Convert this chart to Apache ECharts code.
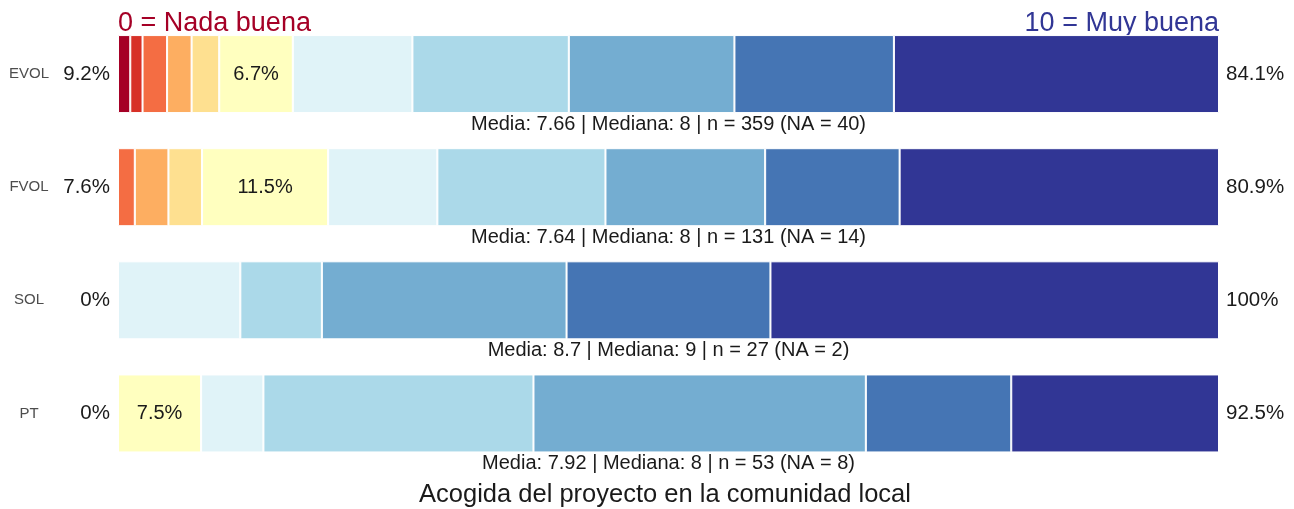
<!DOCTYPE html>
<html>
<head>
<meta charset="utf-8">
<script src="https://cdn.jsdelivr.net/npm/echarts@6/dist/echarts.min.js"></script>
<style>
  html, body { margin: 0; padding: 0; background: #ffffff; }
  #chart { width: 1294px; height: 509px; }
</style>
</head>
<body>
<div id="chart"></div>
<script>
// ---- Data ----
const groups = ['EVOL', 'FVOL', 'SOL', 'PT'];
const scoreLabels = ['0', '1', '2', '3', '4', '5', '6', '7', '8', '9', '10'];
// counts per score 0..10 for each group
const countsEVOL = [4, 4, 8, 8, 9, 24, 39, 51, 54, 52, 106];
const countsFVOL = [0, 0, 2, 4, 4, 15, 13, 20, 19, 16, 38];
const countsSOL  = [0, 0, 0, 0, 0, 0, 3, 2, 6, 5, 11];
const countsPT   = [0, 0, 0, 0, 0, 4, 3, 13, 16, 7, 10];
const statMean   = ['7.66', '7.64', '8.7', '7.92'];
const statMedian = ['8', '8', '9', '8'];
const statN      = [359, 131, 27, 53];
const statNA     = [40, 14, 2, 8];
const titleText = 'Acogida del proyecto en la comunidad local';
const lowLabel = '0 = Nada buena';
const highLabel = '10 = Muy buena';

// ---- Styling ----
const palette = ['#a50026', '#d73027', '#f46d43', '#fdae61', '#fee090', '#ffffbf',
                 '#e0f3f8', '#abd9e9', '#74add1', '#4575b4', '#313695'];
const FONT = "'Liberation Sans', Arial, sans-serif";

const allCounts = [countsEVOL, countsFVOL, countsSOL, countsPT];
const totals = allCounts.map(c => c.reduce((a, b) => a + b, 0));
function fmtPct(v) {
  const r = Math.round(v * 1000) / 10;
  return (Number.isInteger(r) ? r.toFixed(0) : r.toFixed(1)) + '%';
}
const lowPct = allCounts.map((c, i) => fmtPct(c.slice(0, 5).reduce((a, b) => a + b, 0) / totals[i]));
const highPct = allCounts.map((c, i) => fmtPct(c.slice(6).reduce((a, b) => a + b, 0) / totals[i]));
const subtitles = groups.map((g, i) =>
  'Media: ' + statMean[i] + ' | Mediana: ' + statMedian[i] + ' | n = ' + statN[i] + ' (NA = ' + statNA[i] + ')');

const BAR_W = 78;
const series = scoreLabels.map((s, k) => ({
  name: s,
  type: 'bar',
  stack: 'total',
  barWidth: BAR_W,
  itemStyle: { color: palette[k], borderColor: '#ffffff', borderWidth: 1 },
  emphasis: { disabled: true },
  data: allCounts.map((c, i) => ({
    value: c[k] / totals[i],
    label: {
      show: k === 5 && c[k] > 0,
      position: 'inside',
      formatter: () => fmtPct(c[k] / totals[i]),
      fontFamily: FONT, fontSize: 20, color: '#1a1a1a'
    }
  }))
}));
// transparent overlay to carry the stats line under each bar
series.push({
  name: 'info',
  type: 'bar',
  barWidth: BAR_W,
  barGap: '-100%',
  silent: true,
  itemStyle: { color: 'rgba(0,0,0,0)' },
  data: groups.map(() => 1),
  label: {
    show: true,
    position: 'bottom',
    distance: 1.5,
    formatter: p => subtitles[p.dataIndex],
    fontFamily: FONT, fontSize: 20, color: '#1a1a1a'
  },
  z: 5
});

const chart = echarts.init(document.getElementById('chart'), null, { renderer: 'canvas' });
chart.setOption({
  animation: false,
  backgroundColor: '#ffffff',
  grid: { left: 118, right: 75, top: 17.5, bottom: 39, containLabel: false },
  xAxis: { type: 'value', min: 0, max: 1, show: false },
  yAxis: [
    { type: 'category', data: groups, inverse: true, position: 'left',
      axisLine: { show: false }, axisTick: { show: false },
      axisLabel: { margin: 89, align: 'center', fontFamily: FONT, fontSize: 15, color: '#4d4d4d' } },
    { type: 'category', data: lowPct, inverse: true, position: 'left',
      axisLine: { show: false }, axisTick: { show: false },
      axisLabel: { margin: 8, fontFamily: FONT, fontSize: 20.5, color: '#1a1a1a' } },
    { type: 'category', data: highPct, inverse: true, position: 'right',
      axisLine: { show: false }, axisTick: { show: false },
      axisLabel: { margin: 7, fontFamily: FONT, fontSize: 20.5, color: '#1a1a1a' } }
  ],
  graphic: [
    { type: 'text', x: 118, y: 23.5, style: { text: lowLabel, fontFamily: FONT, fontSize: 27,
        fill: '#a50026', align: 'left', verticalAlign: 'middle' } },
    { type: 'text', x: 1219, y: 23.5, style: { text: highLabel, fontFamily: FONT, fontSize: 27,
        fill: '#313695', align: 'right', verticalAlign: 'middle' } },
    { type: 'text', x: 665, y: 494.5, style: { text: titleText, fontFamily: FONT, fontSize: 25.5,
        fill: '#1a1a1a', align: 'center', verticalAlign: 'middle' } }
  ],
  series: series
});
</script>
</body>
</html>
